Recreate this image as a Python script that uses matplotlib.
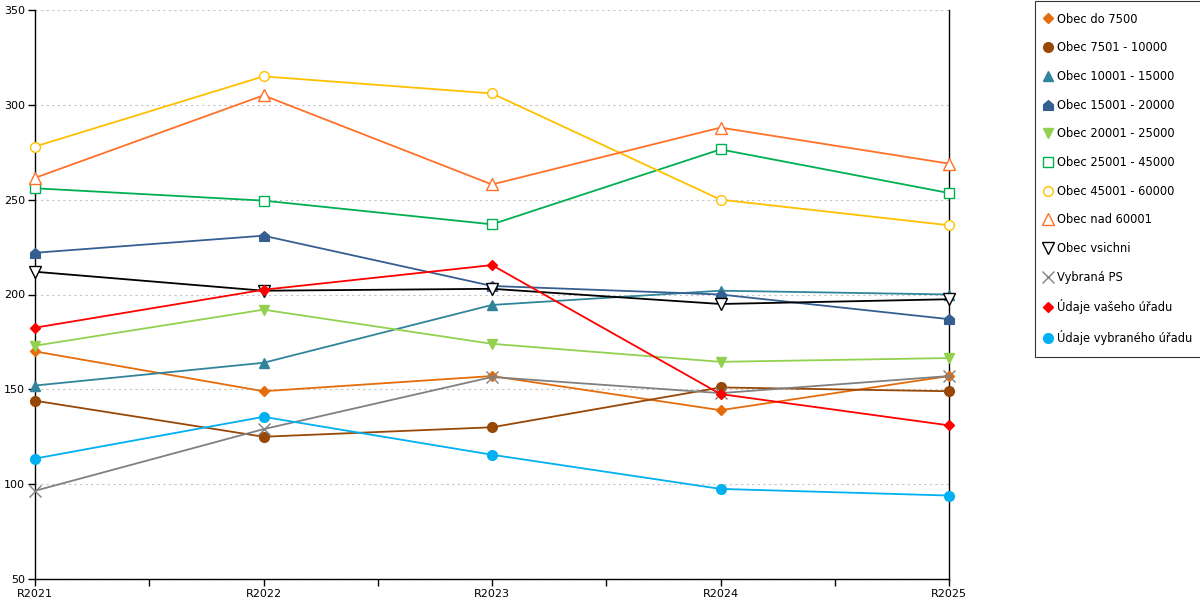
import numpy as np
import matplotlib.pyplot as plt
from matplotlib.path import Path

plt.rcParams["font.family"] = ["DejaVu Sans"]
plt.rcParams["font.size"] = 8

# data
years = ["R2021", "R2022", "R2023", "R2024", "R2025"]

obec_do_7500 = [170, 149, 157, 139, 157]
obec_7501_10000 = [144, 125, 130, 151, 149]
obec_10001_15000 = [152, 164, 194.5, 202, 200]
obec_15001_20000 = [222, 231, 204.5, 200, 187]
obec_20001_25000 = [173, 192, 174, 164.5, 166.5]
obec_25001_45000 = [256, 249.5, 237, 276.5, 253.5]
obec_45001_60000 = [278, 315, 306, 250, 236.5]
obec_nad_60001 = [261.5, 305, 258, 288, 269]
obec_vsichni = [212, 202, 203, 195, 197.5]
vybrana_ps = [96.5, 129, 156.5, 148, 157]
udaje_vaseho = [182.5, 202.5, 215.5, 147.5, 131]
udaje_vybraneho = [113.5, 135.5, 115.5, 97.5, 94]

# house shaped marker (triangle on a square)
house = Path([(-1, -1), (1, -1), (1, 0.15), (0, 1), (-1, 0.15), (-1, -1)],
             [Path.MOVETO, Path.LINETO, Path.LINETO, Path.LINETO, Path.LINETO, Path.CLOSEPOLY])

series = [
    ("Obec do 7500", obec_do_7500, "#e46c0a", "D", True, 5),
    ("Obec 7501 - 10000", obec_7501_10000, "#974706", "o", True, 7),
    ("Obec 10001 - 15000", obec_10001_15000, "#31849b", "^", True, 7),
    ("Obec 15001 - 20000", obec_15001_20000, "#365f91", house, True, 7),
    ("Obec 20001 - 25000", obec_20001_25000, "#92d050", "v", True, 7),
    ("Obec 25001 - 45000", obec_25001_45000, "#00b050", "s", False, 7),
    ("Obec 45001 - 60000", obec_45001_60000, "#ffc000", "o", False, 7),
    ("Obec nad 60001", obec_nad_60001, "#ff7028", "^", False, 8),
    ("Obec vsichni", obec_vsichni, "#000000", "v", False, 8),
    ("Vybraná PS", vybrana_ps, "#808080", "x", True, 8),
    ("Údaje vašeho úřadu", udaje_vaseho, "#ff0000", "D", True, 5),
    ("Údaje vybraného úřadu", udaje_vybraneho, "#00b0f0", "o", True, 7),
]

fig = plt.figure(figsize=(12, 6), dpi=100)
ax = fig.add_axes([35 / 1200, 21 / 600, (949 - 35) / 1200, (579 - 10) / 600])

x = np.arange(len(years))
for label, values, color, marker, filled, ms in series:
    ax.plot(x, values, color=color, linewidth=1.3, marker=marker, markersize=ms,
            markerfacecolor=color if filled else "white",
            markeredgecolor=color, markeredgewidth=1.0,
            label=label, clip_on=False, zorder=3)

ax.set_xlim(0, len(years) - 1)
ax.set_ylim(50, 350)
ax.set_yticks(np.arange(50, 351, 50))
ax.set_xticks(x)
ax.set_xticklabels(years)
ax.set_xticks(x[:-1] + 0.5, minor=True)
ax.tick_params(axis="both", which="both", direction="out", length=5, width=1, colors="black")
ax.tick_params(axis="x", pad=2)
ax.tick_params(axis="y", pad=2)

ax.grid(axis="y", linestyle=(0, (2, 3)), color="#c4c4c4", linewidth=0.8)
ax.set_axisbelow(True)
ax.spines["top"].set_visible(False)
for side in ["left", "bottom", "right"]:
    ax.spines[side].set_color("black")
    ax.spines[side].set_linewidth(1.0)

leg = fig.legend(loc="upper left", bbox_to_anchor=(1035 / 1200, 599 / 600), frameon=True,
                 fancybox=False, edgecolor="black", fontsize=8.3, labelspacing=1.36,
                 handlelength=0.2, handletextpad=0.7, borderpad=1.0,
                 borderaxespad=0)
leg.get_frame().set_linewidth(0.8)
for h in leg.get_lines():
    h.set_linestyle("none")

fig.savefig("out.png", dpi=100)
